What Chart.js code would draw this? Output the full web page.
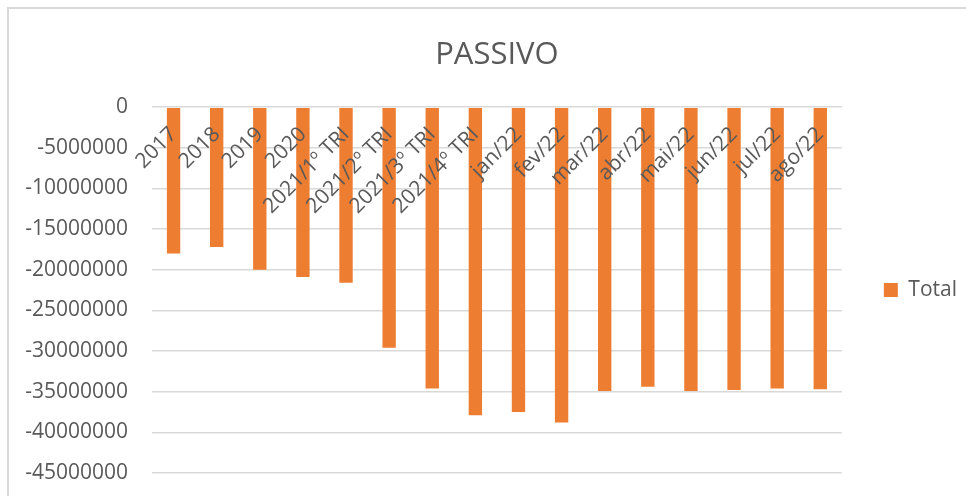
<!DOCTYPE html>
<html>
<head>
<meta charset="utf-8">
<script src="https://cdn.jsdelivr.net/npm/chart.js@4.4.1/dist/chart.umd.min.js"></script>
<style>
  html, body { margin: 0; padding: 0; background: #fff; overflow: hidden; }
  #frame {
    position: absolute; left: 7px; top: 7px; width: 1000px; height: 600px;
    border: 2px solid #d9d9d9; box-sizing: border-box;
  }
  #wrap { position: absolute; left: 0; top: 0; width: 967px; height: 496px; }
</style>
</head>
<body>
<div id="frame"></div>
<div id="wrap"><canvas id="chart"></canvas></div>
<script>
// Periods on the category axis
const categories = [
  "2017", "2018", "2019", "2020",
  "2021/1º TRI", "2021/2º TRI", "2021/3º TRI", "2021/4º TRI",
  "jan/22", "fev/22", "mar/22", "abr/22", "mai/22", "jun/22", "jul/22", "ago/22"
];

// Total liabilities
const totalValues = [
  -18000000, -17200000, -20000000, -20900000,
  -21600000, -29600000, -34600000, -37900000,
  -37500000, -38800000, -34900000, -34400000, -34900000, -34800000, -34600000, -34700000
];

const yMin = -45000000;
const yMax = 0;
const yStep = 5000000;

const TEXT_COLOR = "#595959";
const GRID_COLOR = "#d9d9d9";
const BAR_COLOR = "#ED7D31";

new Chart(document.getElementById("chart"), {
    type: "bar",
    data: {
        labels: categories,
        datasets: [
            {
                label: "Total",
                data: totalValues,
                backgroundColor: BAR_COLOR,
                borderWidth: 0,
                categoryPercentage: 1,
                barPercentage: 0.31,
            },
        ],
    },
    options: {
        responsive: true,
        maintainAspectRatio: false,
        animation: false,
        layout: { padding: { left: 0, right: 0, top: 0, bottom: 23 } },
        plugins: {
            title: {
                display: true,
                fullSize: false,
                text: "PASSIVO",
                color: TEXT_COLOR,
                font: { family: "'Open Sans'", size: 31, weight: "normal" },
                padding: { top: 37, bottom: 33 },
            },
            legend: {
                display: true,
                position: "right",
                fullSize: false,
                labels: {
                    color: TEXT_COLOR,
                    font: { family: "'Open Sans'", size: 21 },
                    boxWidth: 14,
                    boxHeight: 14,
                    padding: 42,
                },
            },
            tooltip: { enabled: false },
        },
        scales: {
            x: {
                position: { y: 0 },
                grid: { display: false, drawTicks: false },
                border: { display: false },
                ticks: {
                    z: 1,
                    color: TEXT_COLOR,
                    font: { family: "'Open Sans'", size: 21 },
                    autoSkip: false,
                    minRotation: 45,
                    maxRotation: 45,
                    padding: 15,
                },
            },
            y: {
                min: yMin,
                max: yMax,
                grid: {
                    color: GRID_COLOR,
                    lineWidth: 1.5,
                    drawTicks: true,
                    tickLength: 22,
                    tickColor: "rgba(0,0,0,0)",
                },
                border: { display: false },
                ticks: {
                    stepSize: yStep,
                    color: TEXT_COLOR,
                    font: { family: "'Open Sans'", size: 21 },
                    padding: 2,
                    callback: (v) => String(v),
                },
                afterFit: (scale) => { scale.width = 152; },
            },
        },
    },
});
</script>
</body>
</html>
